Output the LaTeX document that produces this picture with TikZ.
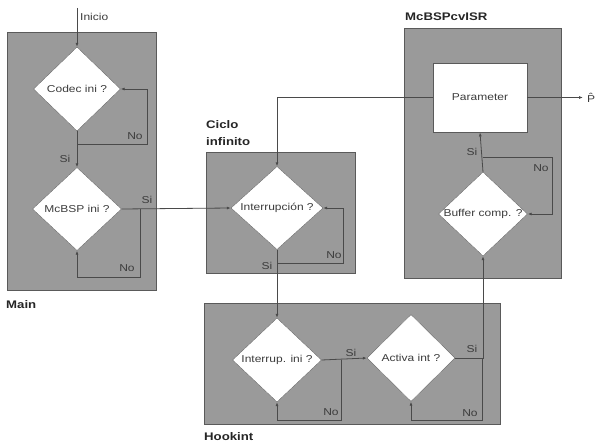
\documentclass[tikz,border=0pt]{standalone}
\usepackage{fontspec}
\setmainfont{Liberation Sans}
\usepackage{graphicx}
\usetikzlibrary{shapes.geometric,arrows.meta}
\definecolor{boxgray}{HTML}{9A9A9A}
\definecolor{boxedge}{HTML}{5A5A5A}
\definecolor{linegray}{HTML}{4A4A4A}
\definecolor{txtgray}{HTML}{3C3C3C}
\newcommand{\wtxt}[1]{\scalebox{1.2}[1]{#1}}
\begin{document}
\begin{tikzpicture}[x=1pt,y=-1pt,
  panel/.style={draw=boxedge,fill=boxgray,line width=0.9pt},
  dec/.style={diamond,draw=boxedge,line width=0.3pt,fill=white,inner sep=0pt,aspect=1},
  dtext/.style={font=\fontsize{10}{12}\selectfont,text=txtgray,inner sep=0pt},
  lbl/.style={font=\fontsize{10}{12}\selectfont,text=txtgray,inner sep=0pt},
  title/.style={font=\fontsize{11}{13}\selectfont\bfseries,text=black!85,inner sep=0pt,anchor=west},
  conn/.style={draw=linegray,line width=0.8pt},
  arr/.style={conn,-{Latex[length=4pt,width=3pt]}}
]
\useasboundingbox (0,0) rectangle (595,444);
\fill[white] (0,0) rectangle (595,444);

% panels
\draw[panel] (7,32) rectangle (156,290);
\draw[panel] (206,152) rectangle (355,273);
\draw[panel] (404,28) rectangle (561,278);
\draw[panel] (204,303) rectangle (500,424);

% titles
\node[title] (tMain) at (6,305) {\wtxt{Main}};
\node[title] (tCiclo1) at (206,125) {\wtxt{Ciclo}};
\node[title] (tCiclo2) at (206,142) {\wtxt{infinito}};
\node[title] (tISR) at (405,17) {\wtxt{McBSPcvISR}};
\node[title] (tHook) at (204,437) {\wtxt{Hookint}};

% decision nodes
\node[dec,minimum width=87pt,minimum height=84pt] (codec) at (77,89) {};
\node[dtext] at (codec.center) {\wtxt{Codec ini ?}};
\node[dec,minimum width=89pt,minimum height=83pt] (mcbsp) at (77,209) {};
\node[dtext] at (mcbsp.center) {\wtxt{McBSP ini ?}};
\node[dec,minimum width=92pt,minimum height=83pt] (intr) at (277,208) {};
\node[dtext] at (intr.center) {\wtxt{Interrupción ?}};
\node[dec,minimum width=89pt,minimum height=84pt] (buf) at (483,214) {};
\node[dtext] at (buf.center) {\wtxt{Buffer comp. ?}};
\node[dec,minimum width=89pt,minimum height=84pt] (iini) at (277,360) {};
\node[dtext] at (iini.center) {\wtxt{Interrup. ini ?}};
\node[dec,minimum width=88pt,minimum height=87pt] (act) at (411,358) {};
\node[dtext] at (act.center) {\wtxt{Activa int ?}};

% parameter box
\node[draw=boxedge,line width=0.9pt,fill=white,minimum width=94pt,minimum height=69pt,inner sep=0pt,dtext] (param) at (480,97.5) {\wtxt{Parameter}};

% coordinates
\coordinate (start) at (77,8);
\coordinate (pout) at (583,97.5);
\coordinate (c1) at (77,144);
\coordinate (m1) at (140,209);
\coordinate (i1) at (277,263);
\coordinate (b1) at (483,157);
\coordinate (h1) at (341,360);
\coordinate (a1) at (482,358);

% connectors
\draw[arr] (start) -- (codec.north);
\node[lbl,anchor=west] (linicio) at (80,17) {\wtxt{Inicio}};

\draw[arr] (codec.south) -- (mcbsp.north);
\draw[arr] (c1) -| (147,89) -- (codec.east);
\node[lbl] (lno1) at (135,136) {\wtxt{No}};
\node[lbl] (lsi1) at (65,159) {\wtxt{Si}};

\draw[arr] (mcbsp.east) -- (intr.west);
\draw[arr] (m1) |- (77,277) -- (mcbsp.south);
\node[lbl] (lsi2) at (147,200) {\wtxt{Si}};
\node[lbl] (lno2) at (127,268) {\wtxt{No}};

\draw[arr] (intr.south) -- (iini.north);
\draw[arr] (i1) -| (343,208) -- (intr.east);
\node[lbl] (lno3) at (334,255) {\wtxt{No}};
\node[lbl] (lsi3) at (267,266) {\wtxt{Si}};

\draw[arr] (param.west) -| (intr.north);
\draw[arr] (param.east) -- (pout);
\node[font=\fontsize{10}{12}\selectfont,text=txtgray,inner sep=0pt,anchor=west] (phat) at (587,98) {\wtxt{P̂}};

\draw[arr] (buf.north) -- (param.south);
\draw[arr] (b1) -| (552,214) -- (buf.east);
\node[lbl] (lno4) at (541,168) {\wtxt{No}};
\node[lbl] (lsi4) at (472,152) {\wtxt{Si}};

\draw[arr] (iini.east) -- (act.west);
\draw[arr] (h1) |- (277,420) -- (iini.south);
\node[lbl] (lsi5) at (351,353) {\wtxt{Si}};
\node[lbl] (lno5) at (331,412) {\wtxt{No}};

\draw[arr] (act.east) -| (buf.south);
\draw[arr] (a1) |- (411,420) -- (act.south);
\node[lbl] (lsi6) at (472,349) {\wtxt{Si}};
\node[lbl] (lno6) at (470,413) {\wtxt{No}};
\end{tikzpicture}
\end{document}
